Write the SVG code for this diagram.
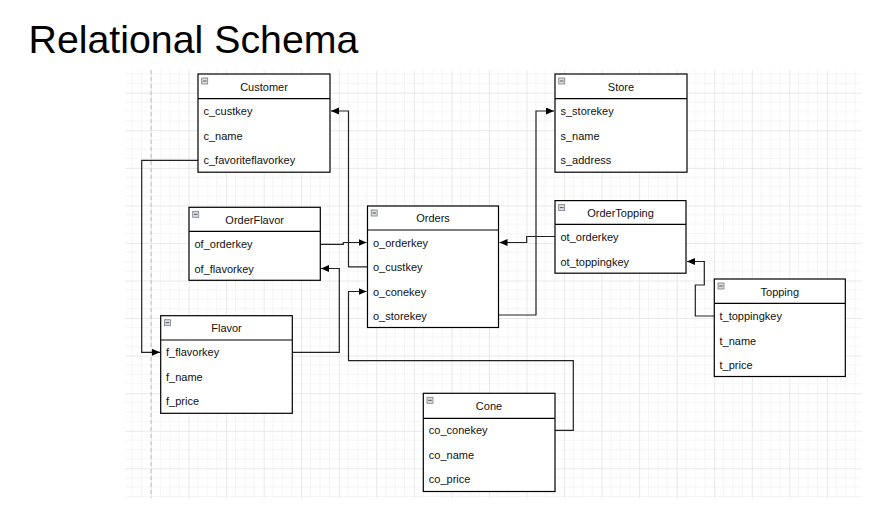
<svg xmlns="http://www.w3.org/2000/svg" width="876" height="514" viewBox="0 0 876 514">
<style>
.title{font-family:"Liberation Sans",Arial,sans-serif;font-size:39.3px;fill:#000}
.box{fill:#fff;stroke:#000;stroke-width:1.2}
.sep{stroke:#000;stroke-width:1.2}
.hd{font-family:"Liberation Sans",Arial,sans-serif;font-size:11px;fill:#111;text-anchor:middle}
.row{font-family:"Liberation Sans",Arial,sans-serif;font-size:11px;fill:#111}
.ico{fill:#d9dde2;stroke:#7a7f86;stroke-width:0.8}
.icl{stroke:#555;stroke-width:1}
.conn{fill:none;stroke:#222;stroke-width:1.2}
</style>
<defs>
<pattern id="grid" x="151" y="92.7" width="37.55" height="37.56" patternUnits="userSpaceOnUse">
<path d="M9.39 0V37.56M18.78 0V37.56M28.16 0V37.56M0 9.39H37.55M0 18.78H37.55M0 28.17H37.55" stroke="#f5f5f5" stroke-width="1" fill="none"/>
<path d="M0.5 0V37.56M0 0.5H37.55" stroke="#e8e8e8" stroke-width="1" fill="none"/>
</pattern>
<marker id="arr" markerWidth="9" markerHeight="8" refX="8" refY="3.5" orient="auto" markerUnits="userSpaceOnUse">
<path d="M0,0 L8,3.5 L0,7 z" fill="#000"/>
</marker>
<g id="icon"><rect class="ico" x="0" y="0" width="6" height="6"/><line class="icl" x1="1.2" y1="3" x2="4.8" y2="3"/></g>
</defs>
<text class="title" x="28.5" y="53">Relational Schema</text>
<rect x="125" y="70" width="737" height="428" fill="url(#grid)"/>
<line x1="151" y1="70" x2="151" y2="498" stroke="#bdbdbd" stroke-width="1" stroke-dasharray="4,3"/>

<g id="connectors">
<path class="conn" d="M367.5,266.8 H348.5 V111 H331" marker-end="url(#arr)"/>
<path class="conn" d="M198,160.3 H141.7 V352.3 H160" marker-end="url(#arr)"/>
<path class="conn" d="M292.3,352.3 H339.3 V268.5 H321" marker-end="url(#arr)"/>
<path class="conn" d="M320,244.3 H343.3 V242.5 H366.5" marker-end="url(#arr)"/>
<path class="conn" d="M555,430.3 H573.3 V360.7 H348.5 V291.5 H366.5" marker-end="url(#arr)"/>
<path class="conn" d="M498.5,315 H536 V111 H554" marker-end="url(#arr)"/>
<path class="conn" d="M555,236.5 H526.7 V242.5 H499.5" marker-end="url(#arr)"/>
<path class="conn" d="M714.3,316 H695.3 V285 H704.3 V261.5 H687" marker-end="url(#arr)"/>
</g>

<g id="customer">
<rect class="box" x="198" y="74" width="132" height="98.2"/>
<line class="sep" x1="198" y1="98.7" x2="330" y2="98.7"/>
<use href="#icon" x="201.7" y="78"/>
<text class="hd" x="264" y="90.5">Customer</text>
<text class="row" x="203.5" y="115">c_custkey</text>
<text class="row" x="203.5" y="139.5">c_name</text>
<text class="row" x="203.5" y="164">c_favoriteflavorkey</text>
</g>

<g id="store">
<rect class="box" x="555" y="74" width="132" height="98.2"/>
<line class="sep" x1="555" y1="98.7" x2="687" y2="98.7"/>
<use href="#icon" x="558.7" y="78"/>
<text class="hd" x="621" y="90.5">Store</text>
<text class="row" x="560.5" y="115">s_storekey</text>
<text class="row" x="560.5" y="139.5">s_name</text>
<text class="row" x="560.5" y="164">s_address</text>
</g>

<g id="orderflavor">
<rect class="box" x="189" y="207.3" width="131.3" height="73"/>
<line class="sep" x1="189" y1="231.3" x2="320.3" y2="231.3"/>
<use href="#icon" x="192.7" y="211.3"/>
<text class="hd" x="254.7" y="223.5">OrderFlavor</text>
<text class="row" x="194.5" y="248">of_orderkey</text>
<text class="row" x="194.5" y="272.5">of_flavorkey</text>
</g>

<g id="orders">
<rect class="box" x="367.5" y="206" width="131" height="121.5"/>
<line class="sep" x1="367.5" y1="230" x2="498.5" y2="230"/>
<use href="#icon" x="371.2" y="210"/>
<text class="hd" x="433" y="222">Orders</text>
<text class="row" x="373" y="246.5">o_orderkey</text>
<text class="row" x="373" y="271">o_custkey</text>
<text class="row" x="373" y="295.5">o_conekey</text>
<text class="row" x="373" y="320">o_storekey</text>
</g>

<g id="ordertopping">
<rect class="box" x="555" y="200.6" width="131" height="72.6"/>
<line class="sep" x1="555" y1="224.4" x2="686" y2="224.4"/>
<use href="#icon" x="558.7" y="204.6"/>
<text class="hd" x="620.5" y="216.5">OrderTopping</text>
<text class="row" x="560.5" y="241">ot_orderkey</text>
<text class="row" x="560.5" y="265.5">ot_toppingkey</text>
</g>

<g id="flavor">
<rect class="box" x="160.7" y="315.7" width="131.6" height="97.6"/>
<line class="sep" x1="160.7" y1="340" x2="292.3" y2="340"/>
<use href="#icon" x="164.4" y="319.7"/>
<text class="hd" x="226.5" y="332">Flavor</text>
<text class="row" x="166" y="356.3">f_flavorkey</text>
<text class="row" x="166" y="380.8">f_name</text>
<text class="row" x="166" y="405.3">f_price</text>
</g>

<g id="topping">
<rect class="box" x="714.3" y="279" width="131" height="97.5"/>
<line class="sep" x1="714.3" y1="303.3" x2="845.3" y2="303.3"/>
<use href="#icon" x="718" y="283"/>
<text class="hd" x="779.8" y="295.5">Topping</text>
<text class="row" x="719.5" y="320">t_toppingkey</text>
<text class="row" x="719.5" y="344.5">t_name</text>
<text class="row" x="719.5" y="369">t_price</text>
</g>

<g id="cone">
<rect class="box" x="423.3" y="393.3" width="131.7" height="98.2"/>
<line class="sep" x1="423.3" y1="418.3" x2="555" y2="418.3"/>
<use href="#icon" x="427" y="397.3"/>
<text class="hd" x="489" y="410">Cone</text>
<text class="row" x="428.8" y="434.3">co_conekey</text>
<text class="row" x="428.8" y="458.8">co_name</text>
<text class="row" x="428.8" y="483.3">co_price</text>
</g>
</svg>
